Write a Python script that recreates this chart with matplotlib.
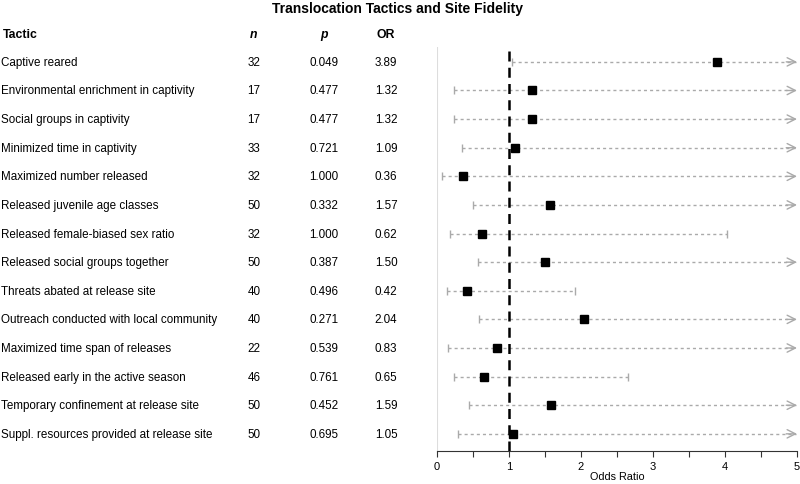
import numpy as np
import matplotlib
matplotlib.use('Agg')
import matplotlib.pyplot as plt
import matplotlib.transforms as mtransforms

plt.rcParams['font.family'] = ['Liberation Sans', 'DejaVu Sans']

# table data
tactics = ['Captive reared',
           'Environmental enrichment in captivity',
           'Social groups in captivity',
           'Minimized time in captivity',
           'Maximized number released',
           'Released juvenile age classes',
           'Released female-biased sex ratio',
           'Released social groups together',
           'Threats abated at release site',
           'Outreach conducted with local community',
           'Maximized time span of releases',
           'Released early in the active season',
           'Temporary confinement at release site',
           'Suppl. resources provided at release site']
n_vals = [32, 17, 17, 33, 32, 50, 32, 50, 40, 40, 22, 46, 50, 50]
p_vals = ['0.049', '0.477', '0.477', '0.721', '1.000', '0.332', '1.000',
          '0.387', '0.496', '0.271', '0.539', '0.761', '0.452', '0.695']
odds = [3.89, 1.32, 1.32, 1.09, 0.36, 1.57, 0.62, 1.50, 0.42, 2.04, 0.83, 0.65, 1.59, 1.05]
ci_low = [1.04, 0.23, 0.23, 0.35, 0.07, 0.50, 0.18, 0.57, 0.14, 0.58, 0.15, 0.24, 0.45, 0.29]
# inf = upper limit runs off the axis (drawn as arrow)
ci_high = [np.inf, np.inf, np.inf, np.inf, np.inf, np.inf, 4.03,
           np.inf, 1.92, np.inf, np.inf, 2.65, np.inf, np.inf]

xmax = 5
grey = '#aaaaaa'

fig = plt.figure(figsize=(8, 4.85), dpi=100)
ax = fig.add_axes([437/800, 33/485, 360/800, 404/485])
rows = np.arange(len(tactics))
ax.set_xlim(0, xmax)
ax.set_ylim(13.6, -0.52)

for y, lo, hi, orv in zip(rows, ci_low, ci_high, odds):
    end = min(hi, xmax)
    ax.plot([lo, end - (0.02 if hi > xmax else 0)], [y, y], color=grey, lw=1,
            linestyle=(0, (2.2, 2.2)), zorder=1)
    ax.plot([lo], [y], marker='|', color=grey, markersize=6, mew=1, zorder=1)
    if hi > xmax:
        ax.annotate('', xy=(xmax, y), xytext=(xmax - 0.15, y),
                    arrowprops=dict(arrowstyle='->,head_length=0.6,head_width=0.3',
                                    color=grey, lw=1, shrinkA=0, shrinkB=0),
                    annotation_clip=False)
    else:
        ax.plot([hi], [y], marker='|', color=grey, markersize=6, mew=1, zorder=1)

ax.plot(odds, rows, 's', color='black', markersize=6, zorder=3)
ax.axvline(1, color='black', lw=1.8, linestyle=(0, (4, 2.5)), zorder=2)
ax.axvline(0, color='#dddddd', lw=1.5, zorder=0)

for s in ['top', 'right', 'left']:
    ax.spines[s].set_visible(False)
ax.spines['bottom'].set_color('#333333')
ax.spines['bottom'].set_linewidth(0.8)
ax.set_yticks([])
ticks = np.arange(0, 5.01, 0.5)
ax.set_xticks(ticks)
ax.set_xticklabels([f'{t:g}' if t == int(t) else '' for t in ticks], fontsize=8)
ax.tick_params(axis='x', length=4, width=0.8, color='#333333', pad=3)
ax.set_xlabel('Odds Ratio', fontsize=7.8, labelpad=0)

# table columns: x in figure coords, y in data rows
trans = mtransforms.blended_transform_factory(fig.transFigure, ax.transData)
fs = 8.4
hy = -0.98
ax.text(3/800, hy, 'Tactic', transform=trans, fontsize=8.8, fontweight='bold', va='center', ha='left')
ax.text(254/800, hy, 'n', transform=trans, fontsize=8.8, fontweight='bold', style='italic', va='center', ha='center')
ax.text(324/800, hy, 'p', transform=trans, fontsize=8.8, fontweight='bold', style='italic', va='center', ha='center')
ax.text(386/800, hy, 'OR', transform=trans, fontsize=8.8, fontweight='bold', va='center', ha='center')
for y, t, nv, pv, orv in zip(rows, tactics, n_vals, p_vals, odds):
    ax.text(1/800, y, t, transform=trans, fontsize=fs, va='center', ha='left')
    ax.text(254/800, y, str(nv), transform=trans, fontsize=fs, va='center', ha='center')
    ax.text(324/800, y, pv, transform=trans, fontsize=fs, va='center', ha='center')
    ax.text(386/800, y, f'{orv:.2f}', transform=trans, fontsize=fs, va='center', ha='center')

fig.text(398/800, 1 - 9/485, 'Translocation Tactics and Site Fidelity',
         fontsize=10, fontweight='bold', ha='center', va='center')

fig.savefig('out.png', dpi=100)
